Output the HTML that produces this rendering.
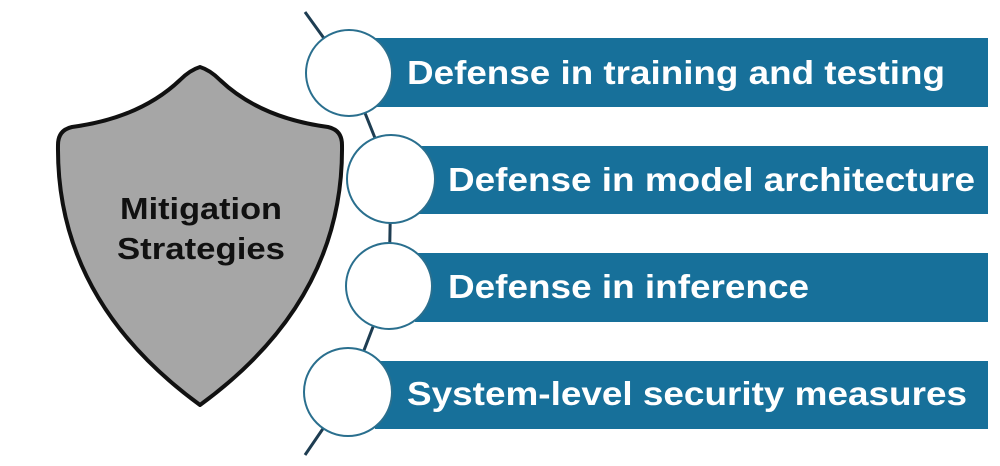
<!DOCTYPE html>
<html><head><meta charset="utf-8"><style>
html,body{margin:0;padding:0;background:#fff;}
svg{display:block;}
text{font-family:"Liberation Sans",Arial,sans-serif;font-weight:bold;}
</style></head><body>
<svg width="1000" height="466" viewBox="0 0 1000 466" xmlns="http://www.w3.org/2000/svg">
<polyline points="305,12 349,73 391,178 389,285 348,392 305,455" fill="none" stroke="#1e3d52" stroke-width="3"/>
<rect x="375" y="38" width="613" height="69" fill="#17709a"/>
<rect x="415" y="146" width="573" height="68" fill="#17709a"/>
<rect x="415" y="253" width="573" height="69" fill="#17709a"/>
<rect x="375" y="361" width="613" height="68" fill="#17709a"/>
<circle cx="349" cy="73" r="43" fill="#fff" stroke="#2a6f8e" stroke-width="2"/>
<circle cx="391" cy="179" r="44" fill="#fff" stroke="#2a6f8e" stroke-width="2"/>
<circle cx="389" cy="286" r="43" fill="#fff" stroke="#2a6f8e" stroke-width="2"/>
<circle cx="348" cy="392" r="44" fill="#fff" stroke="#2a6f8e" stroke-width="2"/>
<text x="407" y="84" font-size="33" fill="#fff" textLength="538" lengthAdjust="spacingAndGlyphs">Defense in training and testing</text>
<text x="448" y="191" font-size="33" fill="#fff" textLength="527" lengthAdjust="spacingAndGlyphs">Defense in model architecture</text>
<text x="448" y="298" font-size="33" fill="#fff" textLength="361" lengthAdjust="spacingAndGlyphs">Defense in inference</text>
<text x="407" y="405" font-size="33" fill="#fff" textLength="560" lengthAdjust="spacingAndGlyphs">System-level security measures</text>
<path d="M200,67 Q190,70 180,80 Q140,118 72,127 Q58,130 58,145 Q56,300 200,405 Q344,300 342,145 Q342,130 328,127 Q260,118 220,80 Q210,70 200,67 Z" fill="#a6a6a6" stroke="#111" stroke-width="4" stroke-linejoin="round"/>
<text x="120" y="219" font-size="31" fill="#111" textLength="162" lengthAdjust="spacingAndGlyphs">Mitigation</text>
<text x="117" y="259" font-size="31" fill="#111" textLength="168" lengthAdjust="spacingAndGlyphs">Strategies</text>
</svg>
</body></html>
